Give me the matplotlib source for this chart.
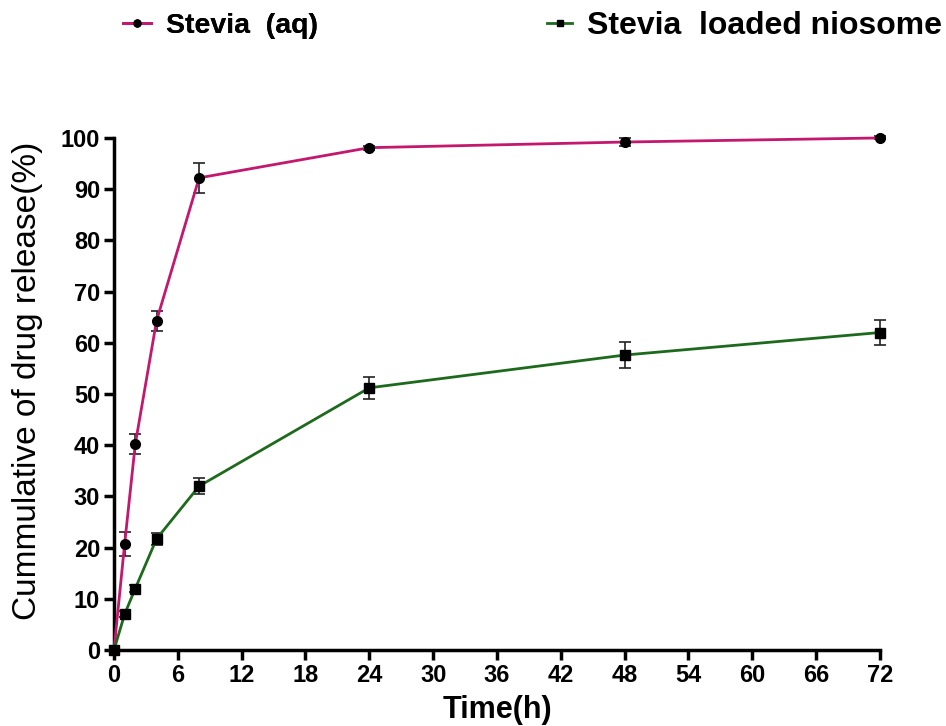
import matplotlib.pyplot as plt
from matplotlib.lines import Line2D

# release data
time_h = [0, 1, 2, 4, 8, 24, 48, 72]
stevia_aq = [0, 20.7, 40.2, 64.3, 92.2, 98.1, 99.2, 100.0]
stevia_aq_err = [0, 2.4, 2.0, 2.0, 2.9, 0.4, 0.8, 0.3]
stevia_nio = [0, 7.0, 12.0, 21.7, 32.0, 51.2, 57.6, 62.0]
stevia_nio_err = [0, 0.6, 0.6, 1.2, 1.5, 2.2, 2.6, 2.4]
xticks = list(range(0, 73, 6))
yticks = list(range(0, 101, 10))

plt.rcParams['font.family'] = ['Liberation Sans', 'DejaVu Sans']

pink = '#c4186e'
green = '#1d6a1d'

fig = plt.figure(figsize=(9.46, 7.26), dpi=100)
ax = fig.add_axes([0.1205, 0.1047, 0.8097, 0.7053])

ax.errorbar(time_h, stevia_aq, yerr=stevia_aq_err, color=pink, lw=2,
            marker='o', ms=7, mfc='black', mec='black',
            ecolor='#222222', elinewidth=1.2, capsize=4, capthick=1.2,
            zorder=3, clip_on=False)
ax.errorbar(time_h, stevia_nio, yerr=stevia_nio_err, color=green, lw=2,
            marker='s', ms=7, mfc='black', mec='black',
            ecolor='#222222', elinewidth=1.2, capsize=4, capthick=1.2,
            zorder=3, clip_on=False)

ax.set_xlim(0, 72)
ax.set_ylim(0, 100)
ax.set_xticks(xticks)
ax.set_yticks(yticks)
for s in ['top', 'right']:
    ax.spines[s].set_visible(False)
for s in ['left', 'bottom']:
    ax.spines[s].set_linewidth(2.5)
ax.tick_params(width=2.5, length=7, labelsize=17, direction='out', pad=3)
for lab in ax.get_xticklabels() + ax.get_yticklabels():
    lab.set_fontweight('bold')

ax.set_xlabel('Time(h)', fontsize=22, fontweight='bold', labelpad=6)
ax.set_ylabel('Cummulative of drug release(%)', fontsize=24, fontweight='medium')
ax.yaxis.set_label_coords(-0.093, 0.525)

h1 = Line2D([], [], color=pink, lw=2, marker='o', ms=5, mfc='black', mec='black')
h2 = Line2D([], [], color=green, lw=2, marker='s', ms=5, mfc='black', mec='black')
leg1 = fig.legend([h1], ['Stevia  (aq)'], loc='center left',
                  bbox_to_anchor=(0.13, 0.964), frameon=False,
                  prop={'size': 20.5, 'weight': 'bold'}, handlelength=1.0,
                  handletextpad=0.5, borderaxespad=0, borderpad=0)
fig.add_artist(leg1)
fig.legend([h2], ['Stevia  loaded niosome'], loc='center left',
           bbox_to_anchor=(0.578, 0.964), frameon=False,
           prop={'size': 23, 'weight': 'bold'}, handlelength=0.8,
           handletextpad=0.45, borderaxespad=0, borderpad=0)

fig.savefig('out.png', dpi=100)
